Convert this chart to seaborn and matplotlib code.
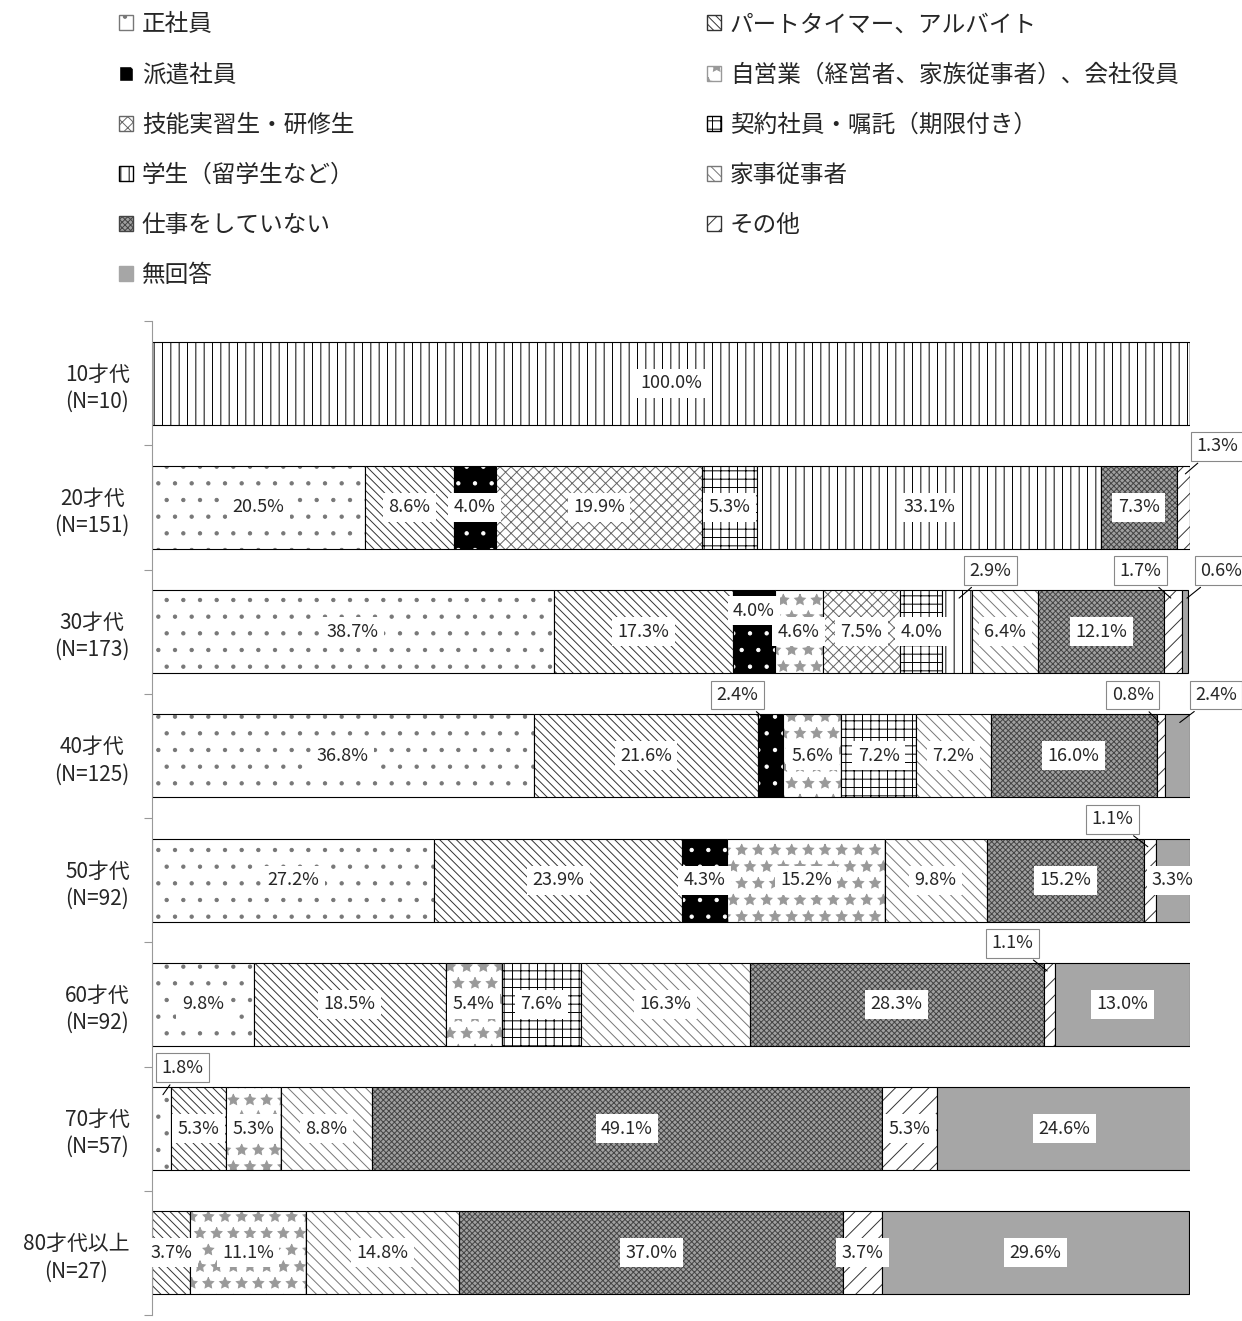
import matplotlib
matplotlib.use("Agg")
import matplotlib.pyplot as plt
from matplotlib.patches import Patch
import seaborn as sns

# age groups (rows, top to bottom)
groups = ["10才代\n(N=10)", "20才代\n(N=151)", "30才代\n(N=173)", "40才代\n(N=125)",
          "50才代\n(N=92)", "60才代\n(N=92)", "70才代\n(N=57)", "80才代以上\n(N=27)"]

series_names = ["正社員", "パートタイマー、アルバイト", "派遣社員", "自営業（経営者、家族従事者）、会社役員",
                "技能実習生・研修生", "契約社員・嘱託（期限付き）", "学生（留学生など）", "家事従事者",
                "仕事をしていない", "その他", "無回答"]

seishain = [0, 20.5, 38.7, 36.8, 27.2, 9.8, 1.8, 0]
part = [0, 8.6, 17.3, 21.6, 23.9, 18.5, 5.3, 3.7]
haken = [0, 4.0, 4.0, 2.4, 4.3, 0, 0, 0]
jiei = [0, 0, 4.6, 5.6, 15.2, 5.4, 5.3, 11.1]
ginou = [0, 19.9, 7.5, 0, 0, 0, 0, 0]
keiyaku = [0, 5.3, 4.0, 7.2, 0, 7.6, 0, 0]
gakusei = [100.0, 33.1, 2.9, 0, 0, 0, 0, 0]
kaji = [0, 0, 6.4, 7.2, 9.8, 16.3, 8.8, 14.8]
shigoto_nashi = [0, 7.3, 12.1, 16.0, 15.2, 28.3, 49.1, 37.0]
sonota = [0, 1.3, 1.7, 0.8, 1.1, 1.1, 5.3, 3.7]
mukaito = [0, 0, 0.6, 2.4, 3.3, 13.0, 24.6, 29.6]

values = [seishain, part, haken, jiei, ginou, keiyaku, gakusei, kaji, shigoto_nashi, sonota, mukaito]

# style per series: facecolor, hatch colour, hatch
styles = [
    ("white", "#777777", "."),
    ("white", "#333333", "\\\\\\\\"),
    ("black", "white", "."),
    ("white", "#999999", "*"),
    ("white", "#666666", "xxx"),
    ("white", "black", "++"),
    ("white", "black", "||"),
    ("white", "#777777", "\\\\\\"),
    ("#a0a0a0", "#444444", "xxxxxx"),
    ("white", "#333333", "//"),
    ("#a6a6a6", "#a6a6a6", ""),
]

# labels drawn outside with a leader line: (row, series) -> box x (%)
outside = {
    (1, 9): 102.6,
    (2, 6): 80.8,
    (2, 9): 95.2,
    (2, 10): 103.0,
    (3, 2): 56.4,
    (3, 9): 94.5,
    (3, 10): 102.5,
    (4, 9): 92.5,
    (5, 9): 82.9,
    (6, 0): 2.9,
}
shifted = {(2, 2): -0.17}

sns.set_theme(style="white")
plt.rcParams["font.family"] = ["Noto Sans CJK JP", "DejaVu Sans"]
plt.rcParams["hatch.linewidth"] = 0.7

fig = plt.figure(figsize=(12.42, 13.21), dpi=100)
ax = fig.add_axes([152 / 1242, 1 - 1315 / 1321, (1190 - 152) / 1242, 994 / 1321])

ypos = list(range(len(groups)))
bar_h = 0.67
left = [0.0] * len(groups)
for s, vals in enumerate(values):
    fc, hc, hatch = styles[s]
    ax.barh(ypos, vals, left=left, height=bar_h, color=fc, edgecolor=hc,
            hatch=hatch, linewidth=0)
    ax.barh(ypos, vals, left=left, height=bar_h, fill=False, edgecolor="black",
            linewidth=0.8)
    for r, v in enumerate(vals):
        if v <= 0:
            continue
        cx = left[r] + v / 2
        txt = f"{v:.1f}%"
        if (r, s) in outside:
            ax.annotate(txt, xy=(cx, r - bar_h / 2 + 0.08), xytext=(outside[(r, s)], r - 0.49),
                        ha="center", va="center", fontsize=13, annotation_clip=False,
                        bbox=dict(boxstyle="square,pad=0.3", fc="white", ec="#888888", lw=0.8),
                        arrowprops=dict(arrowstyle="-", color="black", lw=0.8))
        else:
            ax.text(cx, r + shifted.get((r, s), 0), txt, ha="center", va="center", fontsize=13,
                    bbox=dict(boxstyle="square,pad=0.3", fc="white", ec="none"))
    left = [left[i] + vals[i] for i in range(len(groups))]

ax.set_xlim(0, 100)
ax.set_ylim(7.4, -0.5)
ax.set_yticks(ypos)
ax.set_yticklabels(groups, fontsize=15, ha="right", multialignment="center", linespacing=1.3)
ax.tick_params(axis="y", which="major", length=0, pad=16)
ax.set_yticks([i - 0.5 for i in range(len(groups) + 1)], minor=True)
ax.tick_params(axis="y", which="minor", length=6, color="#999999", width=0.8, left=True)
ax.set_xticks([])
for side in ["top", "right", "bottom"]:
    ax.spines[side].set_visible(False)
ax.spines["left"].set_color("#999999")
ax.spines["left"].set_linewidth(0.8)

# legend, filled row by row like the original
handles = [Patch(facecolor=styles[i][0], edgecolor=styles[i][1], hatch=styles[i][2], label=series_names[i])
           for i in range(len(series_names))]
order = [0, 2, 4, 6, 8, 10, 1, 3, 5, 7, 9]
fig.legend([handles[i] for i in order], [series_names[i] for i in order],
           loc="upper left", bbox_to_anchor=(98 / 1242, 1 + 8 / 1321), ncol=2,
           frameon=False, fontsize=17, handlelength=0.6, handleheight=0.6,
           handletextpad=0.35, labelspacing=1.15, columnspacing=14.95)

fig.savefig("out.png", dpi=100)
